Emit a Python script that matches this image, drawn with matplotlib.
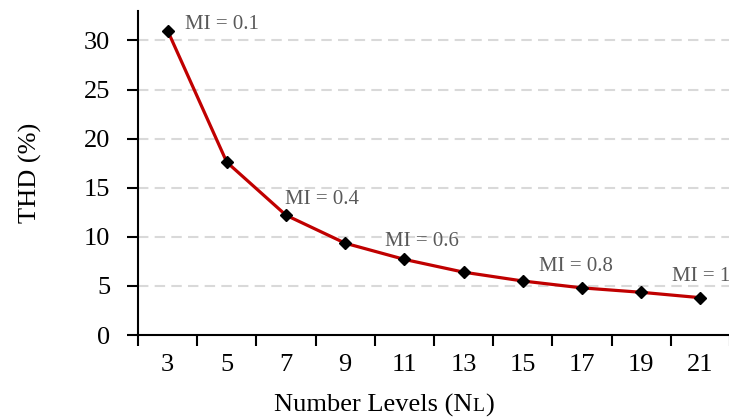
import matplotlib
matplotlib.use("Agg")
import matplotlib.pyplot as plt
import numpy as np
from matplotlib.offsetbox import TextArea, HPacker, AnchoredOffsetbox

levels = ["3", "5", "7", "9", "11", "13", "15", "17", "19", "21"]
thd = [31.0, 17.6, 12.2, 9.35, 7.7, 6.4, 5.5, 4.8, 4.35, 3.8]
mi_labels = ["MI = 0.1", "MI = 0.4", "MI = 0.6", "MI = 0.8", "MI = 1"]
mi_pos = [(0.294, 31.6), (1.983, 13.8), (3.67, 9.56), (6.27, 7.02), (8.515, 6.0)]
yticks = [0, 5, 10, 15, 20, 25, 30]

plt.rcParams['font.family'] = ['Liberation Serif', 'DejaVu Serif']

W, H = 729, 419
fig = plt.figure(figsize=(W/100, H/100), dpi=100)
ax = fig.add_axes([138/W, 1-335/H, (730-138)/W, (335-11)/H])

x = np.arange(len(levels))
y = np.array(thd, dtype=float)

ax.plot(x, y, color='#C00000', lw=2.3, zorder=3, solid_joinstyle='round')
ax.plot(x, y, linestyle='none', marker='D', ms=6.3, color='black', zorder=4)

for lab, (tx, ty) in zip(mi_labels, mi_pos):
    ax.text(tx, ty, lab, fontsize=15, color='#595959', ha='left', va='center', zorder=5)

ax.set_xlim(-0.5, len(levels)-0.5)
ax.set_ylim(0, 33)
ax.set_yticks(yticks)
ax.set_yticklabels([str(v) for v in yticks], fontsize=19)
ax.set_xticks(np.arange(len(levels)+1) - 0.5)
ax.set_xticklabels([])
ax.set_xticks(x, minor=True)
ax.set_xticklabels(levels, minor=True, fontsize=19)
ax.tick_params(axis='x', which='major', length=8, width=1.5, direction='out', color='black')
ax.tick_params(axis='x', which='minor', length=0, pad=14)
ax.tick_params(axis='y', length=8, width=1.5, direction='out', pad=12)

for yy in yticks[1:]:
    ax.axhline(yy, color='#d9d9d9', lw=1.5, ls=(0, (5, 3)), zorder=1)

for s in ['top', 'right']:
    ax.spines[s].set_visible(False)
for s in ['left', 'bottom']:
    ax.spines[s].set_linewidth(1.5)
    ax.spines[s].set_color('black')

fig.text(30/W, 1-173/H, "THD (%)", rotation=90, ha='center', va='center', fontsize=19)

box = HPacker(children=[TextArea("Number Levels (N", textprops=dict(fontsize=19)),
                        TextArea("L", textprops=dict(fontsize=14)),
                        TextArea(")", textprops=dict(fontsize=19))],
              align="baseline", pad=0, sep=0)
anch = AnchoredOffsetbox(loc='center', child=box, frameon=False,
                         bbox_to_anchor=(384/W, 1-405/H), bbox_transform=fig.transFigure,
                         pad=0, borderpad=0)
fig.add_artist(anch)

fig.savefig("out.png", dpi=100)
